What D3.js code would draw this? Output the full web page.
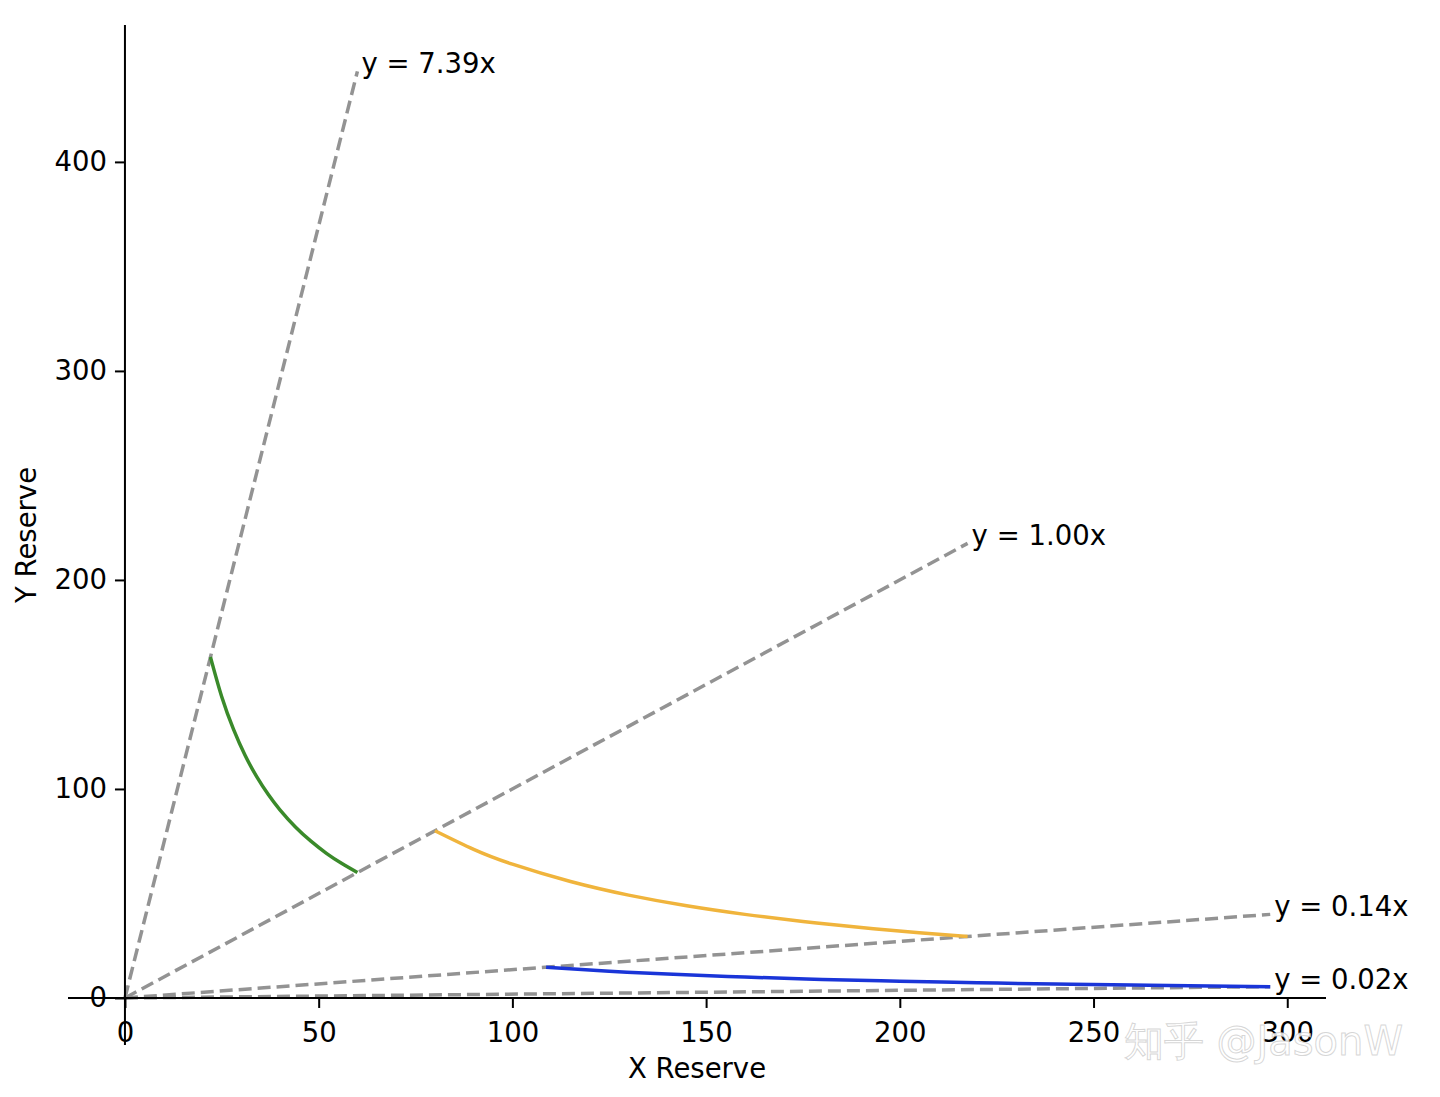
<!DOCTYPE html>
<html><head><meta charset="utf-8">
<script src="https://cdn.jsdelivr.net/npm/d3@7"></script>
<style>body{margin:0;background:#fff}svg{display:block}text{font-family:"DejaVu Sans",sans-serif}</style>
</head><body><svg id="c" width="1440" height="1097"></svg>
<script>
const slopes = [7.389, 1.0, 0.1353, 0.0183];
const slopeLabels = ["y = 7.39x", "y = 1.00x", "y = 0.14x", "y = 0.02x"];
const lineEndX = [60, 217.5, 295.6, 295.6];
const greenX = [22.07,25,28,31,34,37,40,44,48,52,56,60];
const greenY = [163.1,144,128.6,116.1,105.9,97.3,90,81.8,75,69.2,64.3,60];
const orangeX = [80,90,100,115,130,145,160,175,190,205,217.5];
const orangeY = [80,71.1,64,55.7,49.2,44.1,40,36.6,33.7,31.2,29.4];
const blueX = [108.7,125,140,160,180,200,220,240,260,280,295.6];
const blueY = [14.72,12.8,11.43,10,8.89,8,7.27,6.67,6.15,5.71,5.41];
const xTicks = [0,50,100,150,200,250,300];
const yTicks = [0,100,200,300,400];

const svg = d3.select("#c");
const x = d3.scaleLinear().domain([-14.7,310]).range([68,1326]);
const y = d3.scaleLinear().domain([-22.5,465.5]).range([1045,25]);

slopes.forEach((s,i)=>{
  svg.append("line").attr("x1",x(0)).attr("y1",y(0)).attr("x2",x(lineEndX[i])).attr("y2",y(s*lineEndX[i]))
    .attr("stroke","#939393").attr("stroke-width",3.5).attr("stroke-dasharray","13,6");
  svg.append("text").attr("x",x(lineEndX[i])+4).attr("y",y(s*lineEndX[i])-8)
    .attr("dominant-baseline","central").attr("font-size",27.5).attr("fill","#000").text(slopeLabels[i]);
});
const line = d3.line().x(d=>x(d[0])).y(d=>y(d[1])).curve(d3.curveNatural);
[[greenX,greenY,"#3a8a2a"],[orangeX,orangeY,"#f0b43c"],[blueX,blueY,"#1a35d8"]].forEach(([xs,ys,c])=>{
  svg.append("path").attr("d",line(xs.map((v,i)=>[v,ys[i]])))
    .attr("fill","none").attr("stroke",c).attr("stroke-width",3.5);
});
const gx = svg.append("g").attr("transform",`translate(0,${y(0)})`)
  .call(d3.axisBottom(x).tickValues(xTicks).tickSize(10).tickPadding(8).tickFormat(d3.format("d")));
const gy = svg.append("g").attr("transform",`translate(${x(0)},0)`)
  .call(d3.axisLeft(y).tickValues(yTicks).tickSize(10).tickPadding(8).tickFormat(d3.format("d")));
[gx,gy].forEach(g=>{
  g.selectAll("text").attr("font-size",27.5).attr("font-family","DejaVu Sans").attr("fill","#000");
  g.selectAll("line").attr("stroke","#000").attr("stroke-width",2);
  g.select(".domain").remove();
});
gx.selectAll("text").attr("dy","0.95em");
svg.append("line").attr("x1",68).attr("x2",1326).attr("y1",y(0)).attr("y2",y(0)).attr("stroke","#000").attr("stroke-width",2);
svg.append("line").attr("x1",x(0)).attr("x2",x(0)).attr("y1",25).attr("y2",1045).attr("stroke","#000").attr("stroke-width",2);
svg.append("text").attr("x",697).attr("y",1078).attr("text-anchor","middle").attr("font-size",27.5).text("X Reserve");
svg.append("text").attr("transform","translate(36,535) rotate(-90)").attr("text-anchor","middle").attr("font-size",27.5).text("Y Reserve");
svg.append("text").attr("x",1403).attr("y",1055).attr("text-anchor","end").attr("font-size",40)
  .attr("font-family","Noto Sans CJK SC").attr("fill","#fff").attr("fill-opacity",0.85)
  .attr("stroke","#bbb").attr("stroke-width",1).attr("stroke-opacity",0.6).text("知乎 @JasonW");
</script></body></html>
